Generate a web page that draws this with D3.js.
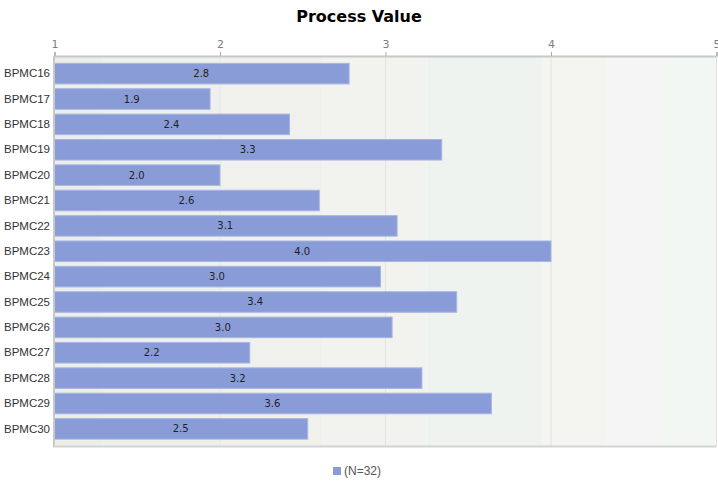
<!DOCTYPE html>
<html>
<head>
<meta charset="utf-8">
<script src="https://cdn.jsdelivr.net/npm/d3@7/dist/d3.min.js"></script>
<style>
  html, body { margin: 0; padding: 0; background: #fff; }
  svg { display: block; }
</style>
</head>
<body>
<svg id="chart" width="718" height="482"></svg>
<script>
// Process value per BPMC item
const categories = ["BPMC16","BPMC17","BPMC18","BPMC19","BPMC20","BPMC21","BPMC22","BPMC23",
                    "BPMC24","BPMC25","BPMC26","BPMC27","BPMC28","BPMC29","BPMC30"];
const values = [2.78, 1.94, 2.42, 3.34, 2.0, 2.6, 3.07, 4.0, 2.97, 3.43, 3.04, 2.18, 3.22, 3.64, 2.53];
const tickValues = [1, 2, 3, 4, 5];
const seriesName = "(N=32)";
const chartTitle = "Process Value";

// soft vertical background bands, edges in axis units
const bgBands = [
  {from: 1.00, to: 1.29, color: "#eceeea"},
  {from: 1.29, to: 2.00, color: "#eef0ec"},
  {from: 2.00, to: 2.62, color: "#f0f1ed"},
  {from: 2.62, to: 3.25, color: "#f2f3ee"},
  {from: 3.25, to: 3.95, color: "#eff3ef"},
  {from: 3.95, to: 4.34, color: "#f4f5f0"},
  {from: 4.34, to: 4.68, color: "#f5f5f5"},
  {from: 4.68, to: 5.00, color: "#f3f7f3"}
];

const svg = d3.select("#chart");
const W = 718;
const plot = {left: 54, right: 716, top: 56, bottom: 446.5};

const x = d3.scaleLinear().domain([1, 5]).range([plot.left, plot.right]);
const y = d3.scaleBand().domain(categories).range([plot.top, plot.bottom])
  .paddingInner(0.19).paddingOuter(0.29);

// title
svg.append("text")
  .attr("x", W / 2).attr("y", 22)
  .attr("text-anchor", "middle")
  .style("font-family", "'DejaVu Sans', Verdana, sans-serif")
  .style("font-weight", "bold")
  .style("font-size", "16px")
  .attr("fill", "#000")
  .text(chartTitle);

// plot background
svg.append("g").selectAll("rect").data(bgBands).join("rect")
  .attr("x", d => x(d.from)).attr("width", d => x(d.to) - x(d.from))
  .attr("y", plot.top).attr("height", plot.bottom - plot.top)
  .attr("fill", d => d.color);

// vertical grid lines
svg.append("g").selectAll("line").data(tickValues.slice(1)).join("line")
  .attr("x1", d => x(d) + 0.5).attr("x2", d => x(d) + 0.5)
  .attr("y1", plot.top).attr("y2", plot.bottom)
  .attr("stroke", "#e4e4e4").attr("stroke-width", 1);

// bars
svg.append("g").selectAll("rect").data(values).join("rect")
  .attr("x", x(1) + 0.5)
  .attr("y", (d, i) => y(categories[i]))
  .attr("width", d => x(d) - x(1))
  .attr("height", y.bandwidth())
  .attr("fill", "#8a9cd8")
  .attr("stroke", "#a8b5e4")
  .attr("stroke-width", 1);

// value labels in the middle of each bar
svg.append("g").selectAll("text").data(values).join("text")
  .attr("x", d => (x(1) + x(d)) / 2)
  .attr("y", (d, i) => y(categories[i]) + y.bandwidth() / 2)
  .attr("dy", "0.35em")
  .attr("text-anchor", "middle")
  .style("font-family", "'DejaVu Sans', Verdana, sans-serif")
  .style("font-size", "10px")
  .attr("fill", "#222")
  .text(d => d3.format(".1f")(d));

// top axis
const xAxis = d3.axisTop(x).tickValues(tickValues).tickFormat(d3.format("d")).tickSize(4).tickPadding(4);
const gx = svg.append("g").attr("transform", `translate(0.5,${plot.top})`).call(xAxis);
gx.select(".domain").attr("stroke", "#c8c8c8").attr("stroke-width", 2);
gx.selectAll(".tick line").attr("stroke", "#aaa");
gx.selectAll(".tick text")
  .style("font-family", "'DejaVu Sans', Verdana, sans-serif")
  .style("font-size", "11px")
  .attr("fill", "#808080");

// left and bottom frame
svg.append("line").attr("x1", plot.left).attr("x2", plot.left)
  .attr("y1", plot.top).attr("y2", plot.bottom + 1)
  .attr("stroke", "#c8c8c8").attr("stroke-width", 2);
svg.append("line").attr("x1", plot.left).attr("x2", plot.right)
  .attr("y1", plot.bottom).attr("y2", plot.bottom)
  .attr("stroke", "#d4d4d4").attr("stroke-width", 2);
svg.append("line").attr("x1", plot.right + 0.5).attr("x2", plot.right + 0.5)
  .attr("y1", plot.top).attr("y2", plot.bottom)
  .attr("stroke", "#e2e2e2").attr("stroke-width", 1);

// category labels
const yAxis = d3.axisLeft(y).tickSize(0).tickPadding(4);
const gy = svg.append("g").attr("transform", `translate(${plot.left},0)`).call(yAxis);
gy.select(".domain").remove();
gy.selectAll(".tick text")
  .style("font-family", "'Liberation Sans', Arial, sans-serif")
  .style("font-size", "11.5px")
  .attr("fill", "#333");

// legend
const legend = svg.append("g").attr("transform", "translate(333,467)");
legend.append("rect").attr("x", 0).attr("y", 0).attr("width", 8).attr("height", 8).attr("fill", "#8a9cd8");
legend.append("text").attr("x", 11).attr("y", 4).attr("dy", "0.35em")
  .style("font-family", "'Liberation Sans', Arial, sans-serif")
  .style("font-size", "12px")
  .attr("fill", "#555")
  .text(seriesName);
</script>
</body>
</html>
